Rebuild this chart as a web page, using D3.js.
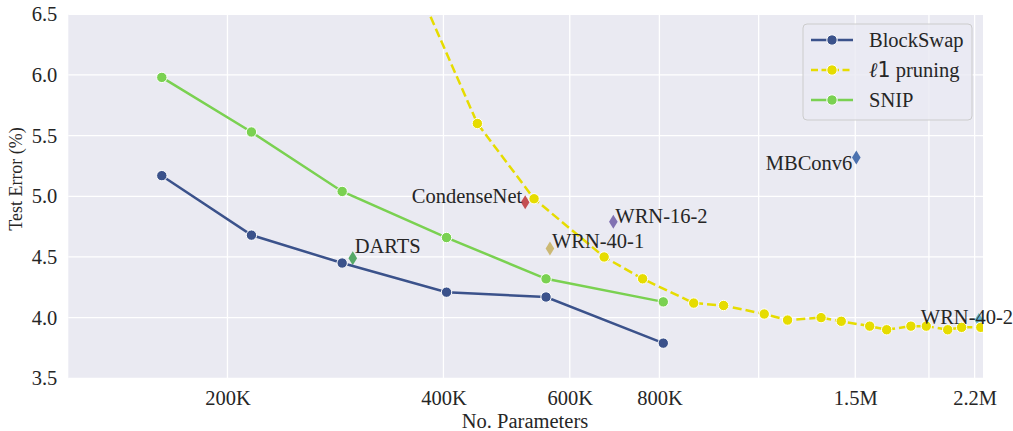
<!DOCTYPE html>
<html>
<head>
<meta charset="utf-8">
<script src="https://cdn.jsdelivr.net/npm/d3@7"></script>
<style>
  body { margin: 0; background: #fff; }
  text { font-family: "Liberation Serif", "Times New Roman", serif; fill: #262626; }
</style>
</head>
<body>
<script>
// sizes, values in data units
var paramsNet = [162e3, 216e3, 289e3, 404e3, 556e3, 810e3];
var blockSwapErr = [5.17, 4.68, 4.45, 4.21, 4.17, 3.79];
var snipErr = [5.98, 5.53, 5.04, 4.66, 4.32, 4.13];

var l1Params = [353e3, 446e3, 535e3, 670e3, 758e3, 893e3, 983e3, 1.12e6, 1.207e6, 1.344e6,
  1.434e6, 1.571e6, 1.659e6, 1.793e6, 1.884e6, 2.018e6, 2.11e6, 2.244e6];
var l1Err = [6.97, 5.60, 4.98, 4.50, 4.32, 4.12, 4.10, 4.03, 3.98, 4.00,
  3.97, 3.93, 3.90, 3.93, 3.93, 3.90, 3.92, 3.92];

var baseNames = ["DARTS", "CondenseNet", "WRN-40-1", "WRN-16-2", "MBConv6", "WRN-40-2"];
var baseParams = [299e3, 520e3, 563e3, 690e3, 1.505e6, 2.23e6];
var baseErr = [4.49, 4.95, 4.57, 4.79, 5.32, 3.98];

var xTicks = [200e3, 400e3, 600e3, 800e3, 1.1e6, 1.5e6, 1.9e6, 2.2e6];
var xTickLabels = ["200K", "400K", "600K", "800K", "", "1.5M", "", "2.2M"];
var yTicks = [3.5, 4.0, 4.5, 5.0, 5.5, 6.0, 6.5];

// styles
var baseColors = ["#55a868", "#c44e52", "#ccb974", "#8172b2", "#4c72b0", "#64b5cd"];
var labelOffset = {
  "DARTS": [2, -5, "start"],
  "CondenseNet": [-3, 1, "end"],
  "WRN-40-1": [2, 0, "start"],
  "WRN-16-2": [2, 1, "start"],
  "MBConv6": [-4, 13, "end"],
  "WRN-40-2": [-58, 4, "start"]
};
var fs = "20.5px";

var W = 1013, H = 431;
var margin = {top: 14.3, right: 30, bottom: 52.7, left: 68.3};
var width = W - margin.left - margin.right,
    height = H - margin.top - margin.bottom;

var x = d3.scaleLog().domain([120e3, 2.26e6]).range([0, width]);
var y = d3.scaleLinear().domain([3.5, 6.5]).range([height, 0]);

var svg = d3.select("body").append("svg")
  .attr("width", W).attr("height", H);

var g = svg.append("g")
  .attr("transform", "translate(" + margin.left + "," + margin.top + ")");

g.append("rect").attr("width", width).attr("height", height).attr("fill", "#eaeaf2");

g.append("clipPath").attr("id", "clip")
  .append("rect").attr("width", width).attr("height", height);

// grid
g.selectAll(".vgrid").data(xTicks).enter().append("line")
  .attr("x1", function(d) { return x(d); }).attr("x2", function(d) { return x(d); })
  .attr("y1", 0).attr("y2", height)
  .attr("stroke", "#fff").attr("stroke-width", 1.3);
g.selectAll(".hgrid").data(yTicks).enter().append("line")
  .attr("y1", function(d) { return y(d); }).attr("y2", function(d) { return y(d); })
  .attr("x1", 0).attr("x2", width)
  .attr("stroke", "#fff").attr("stroke-width", 1.3);

// axes
var xAxis = g.append("g").attr("transform", "translate(0," + height + ")")
  .call(d3.axisBottom(x).tickValues(xTicks)
    .tickFormat(function(d, i) { return xTickLabels[i]; }).tickSize(0).tickPadding(12));
var yAxis = g.append("g")
  .call(d3.axisLeft(y).tickValues(yTicks).tickFormat(d3.format(".1f")).tickSize(0).tickPadding(11));
[xAxis, yAxis].forEach(function(a) {
  a.select(".domain").remove();
  a.selectAll("text").style("font-family", "Liberation Serif").style("font-size", fs).attr("fill", "#262626");
});

svg.append("text").attr("x", 525).attr("y", 428)
  .attr("text-anchor", "middle").style("font-size", fs).text("No. Parameters");
svg.append("text").attr("transform", "translate(22,179) rotate(-90)")
  .attr("text-anchor", "middle").style("font-size", "18px").text("Test Error (%)");

var plot = g.append("g").attr("clip-path", "url(#clip)");

// baselines (diamonds)
var baseline = baseNames.map(function(n, i) {
  return {name: n, p: baseParams[i], e: baseErr[i], c: baseColors[i]};
});
plot.selectAll(".dia").data(baseline).enter().append("path")
  .attr("d", "M0,-7L4.3,0L0,7L-4.3,0Z")
  .attr("transform", function(d) { return "translate(" + x(d.p) + "," + y(d.e) + ")"; })
  .attr("fill", function(d) { return d.c; });

var line = d3.line()
  .x(function(d) { return x(d[0]); })
  .y(function(d) { return y(d[1]); });

var series = [
  {name: "BlockSwap", color: "#3b528b", dash: null, pts: d3.zip(paramsNet, blockSwapErr)},
  {name: "l1", color: "#e6dc00", dash: "9,4", pts: d3.zip(l1Params, l1Err)},
  {name: "SNIP", color: "#7ad151", dash: null, pts: d3.zip(paramsNet, snipErr)}
];
var drawOrder = [series[1], series[2], series[0]];

drawOrder.forEach(function(s) {
  plot.append("path").datum(s.pts)
    .attr("d", line).attr("fill", "none")
    .attr("stroke", s.color).attr("stroke-width", 2.5)
    .attr("stroke-dasharray", s.dash);
  plot.selectAll(null).data(s.pts).enter().append("circle")
    .attr("cx", function(d) { return x(d[0]); })
    .attr("cy", function(d) { return y(d[1]); })
    .attr("r", 5.2)
    .attr("fill", s.color).attr("stroke", "#fff").attr("stroke-width", 1);
});

// annotation labels
g.selectAll(".lab").data(baseline).enter().append("text")
  .attr("x", function(d) { return x(d.p) + labelOffset[d.name][0]; })
  .attr("y", function(d) { return y(d.e) + labelOffset[d.name][1]; })
  .attr("text-anchor", function(d) { return labelOffset[d.name][2]; })
  .style("font-size", fs)
  .text(function(d) { return d.name; });

// legend
var leg = g.append("g").attr("transform", "translate(" + (803 - margin.left) + "," + (24 - margin.top) + ")");
leg.append("rect").attr("width", 169).attr("height", 96).attr("rx", 4)
  .attr("fill", "#eaeaf2").attr("fill-opacity", 0.8)
  .attr("stroke", "#cccccc").attr("stroke-width", 1);
series.forEach(function(s, i) {
  var ly = 16 + i * 30;
  leg.append("line").attr("x1", 8).attr("x2", 50).attr("y1", ly).attr("y2", ly)
    .attr("stroke", s.color).attr("stroke-width", 2.5).attr("stroke-dasharray", s.dash ? "7,3.5" : null);
  leg.append("circle").attr("cx", 29).attr("cy", ly).attr("r", 5.2)
    .attr("fill", s.color).attr("stroke", "#fff").attr("stroke-width", 1);
  var t = leg.append("text").attr("x", 66).attr("y", ly + 7).style("font-size", fs);
  if (s.name === "l1") {
    t.append("tspan").style("font-family", "DejaVu Serif").style("font-style", "italic").text("ℓ");
    t.append("tspan").style("font-family", "DejaVu Sans").text("1");
    t.append("tspan").text(" pruning");
  } else {
    t.text(s.name);
  }
});
</script>
</body>
</html>
